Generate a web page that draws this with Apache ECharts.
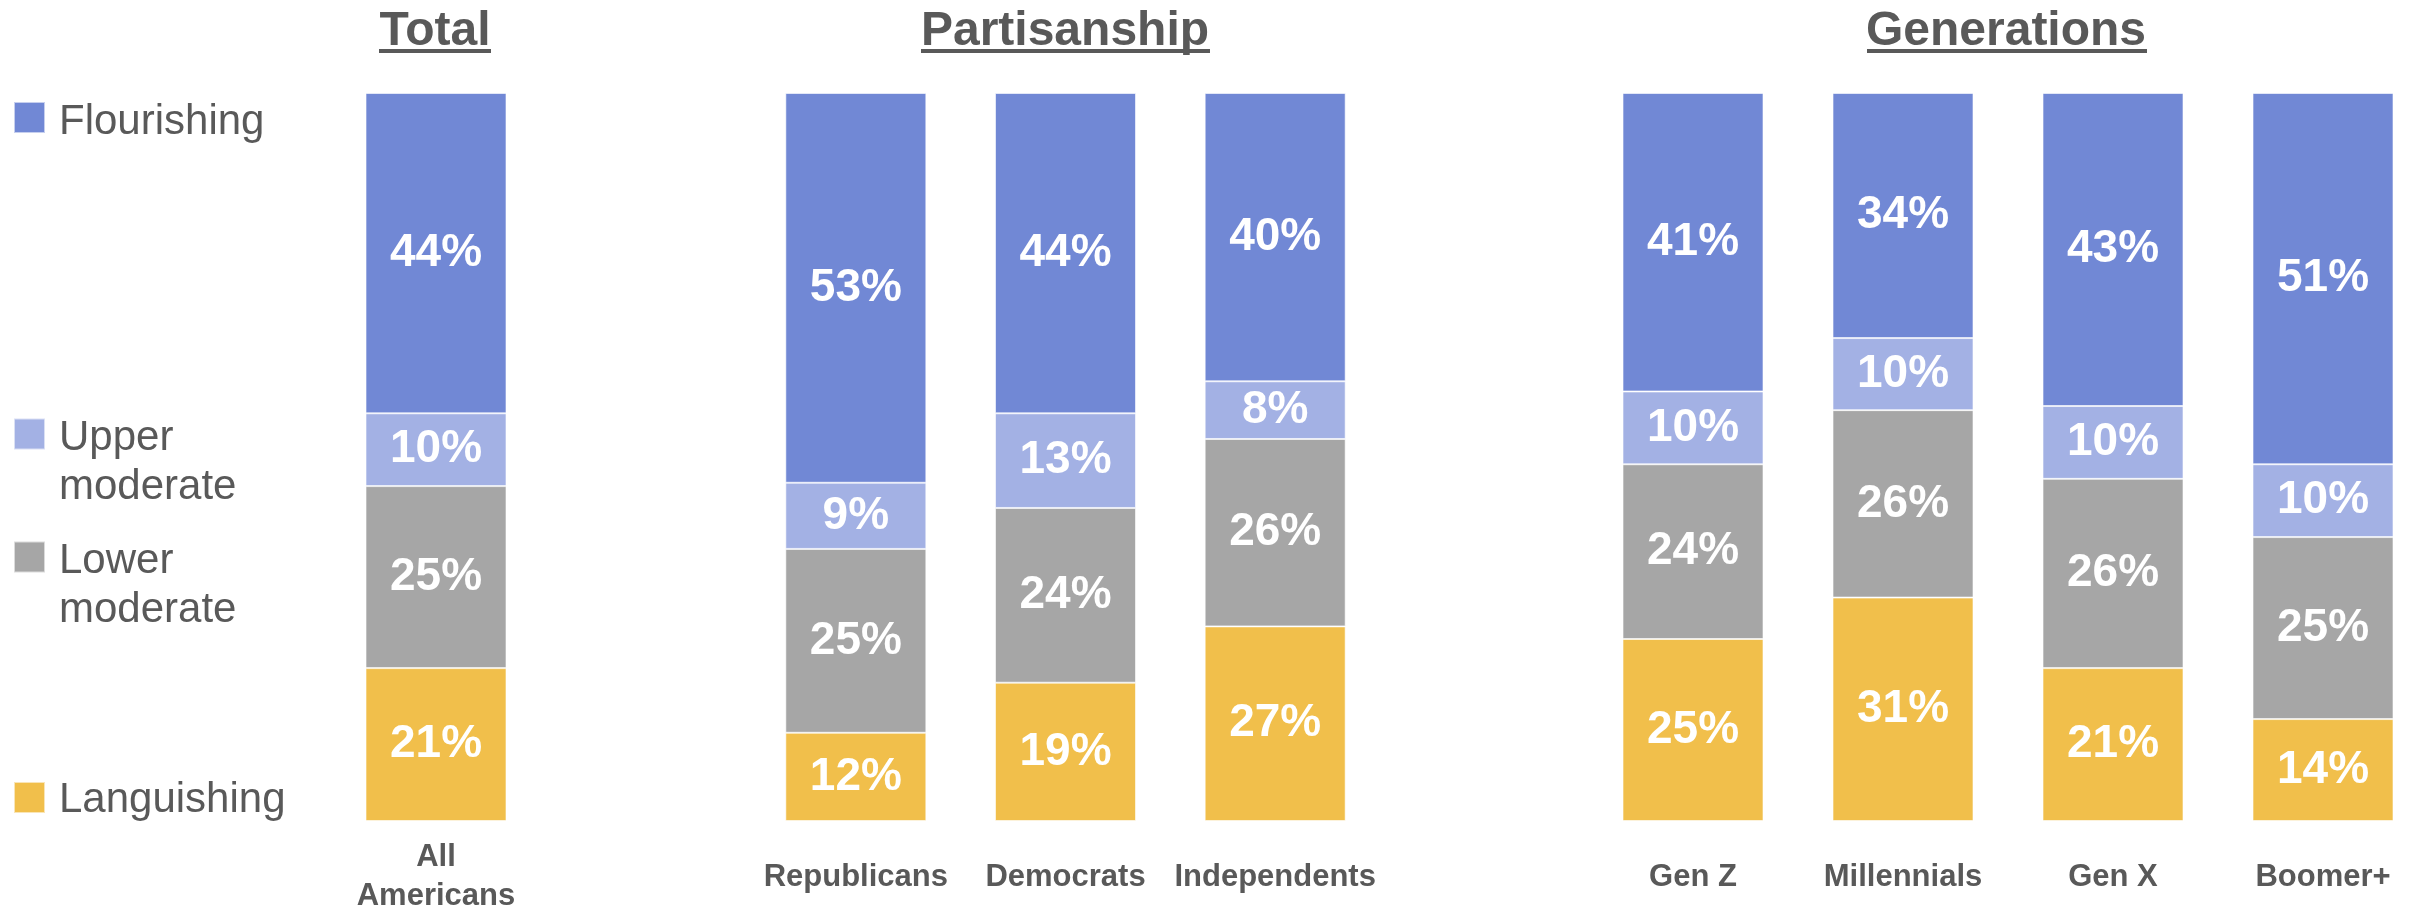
<!DOCTYPE html>
<html><head><meta charset="utf-8">
<script src="https://cdn.jsdelivr.net/npm/echarts@6/dist/echarts.min.js"></script>
<style>html,body{margin:0;padding:0;background:#fff}#c{width:2423px;height:909px}</style>
</head><body><div id="c"></div>
<script>
// ---- data (percentages as labelled) ----
const groupTitles = ['Total', 'Partisanship', 'Generations'];
const categoriesTotal = ['All Americans'];
const categoriesParty = ['Republicans', 'Democrats', 'Independents'];
const categoriesGen = ['Gen Z', 'Millennials', 'Gen X', 'Boomer+'];
// order of all categories: Total, Party..., Gen...
const flourishing   = [44, 53, 44, 40, 41, 34, 43, 51];
const upperModerate = [10,  9, 13,  8, 10, 10, 10, 10];
const lowerModerate = [25, 25, 24, 26, 24, 26, 26, 25];
const languishing   = [21, 12, 19, 27, 25, 31, 21, 14];
const segmentNames = ['Languishing', 'Lower moderate', 'Upper moderate', 'Flourishing'];

// ---- styling ----
const FONT = 'Liberation Sans, Arial, sans-serif';
const GRAY = '#595959';
const colors = {
  'Flourishing': '#7188D5',
  'Upper moderate': '#A3B1E4',
  'Lower moderate': '#A6A6A6',
  'Languishing': '#F1BF4B'
};
const segValues = {
  'Languishing': languishing,
  'Lower moderate': lowerModerate,
  'Upper moderate': upperModerate,
  'Flourishing': flourishing
};
const groups = [
  {cats: categoriesTotal, start: 0, left: 331, width: 210, titleX: 435},
  {cats: categoriesParty, start: 1, left: 751, width: 629, titleX: 1065},
  {cats: categoriesGen, start: 4, left: 1588, width: 840, titleX: 2006}
];
const totals = flourishing.map((v, i) => v + upperModerate[i] + lowerModerate[i] + languishing[i]);

const grid = groups.map(g => ({left: g.left, width: g.width, top: 93, height: 728, outerBoundsMode: 'none', containLabel: false}));
const xAxis = groups.map((g, gi) => ({
  type: 'category', gridIndex: gi, data: g.cats,
  axisLine: {show: false}, axisTick: {show: false},
  axisLabel: {
    color: GRAY, fontWeight: 'bold', fontSize: 31, fontFamily: FONT,
    margin: 56, verticalAlign: 'middle', lineHeight: 39, interval: 0,
    formatter: gi === 0 ? (v => v.replace(' ', '\n')) : (v => v)
  }
}));
const yAxis = groups.map((g, gi) => ({
  type: 'value', gridIndex: gi, min: 0, max: 100, show: false
}));
const series = [];
groups.forEach((g, gi) => {
  segmentNames.forEach(name => {
    series.push({
      type: 'bar', name: name, stack: 'g' + gi, xAxisIndex: gi, yAxisIndex: gi,
      barWidth: 141,
      itemStyle: {color: colors[name], borderColor: 'rgba(255,255,255,0.6)', borderWidth: 1},
      label: {
        show: true, position: 'inside', color: '#fff', fontWeight: 'bold',
        fontSize: 46, fontFamily: FONT,
        formatter: p => p.data.raw + '%'
      },
      emphasis: {disabled: true},
      data: g.cats.map((c, ci) => {
        const k = g.start + ci;
        const raw = segValues[name][k];
        return {value: raw / totals[k] * 100, raw: raw};
      })
    });
  });
});

// spacer line height pushes the (vertically centred) legend text down
function legendFor(name, top, spacer) {
  return {
    data: [name], left: 13, top: top, padding: 0, icon: 'rect',
    itemWidth: 31, itemHeight: 31, selectedMode: false,
    formatter: n => '{s| }\n' + n.split(' ').map(w => '{t|' + w + '}').join('\n'),
    textStyle: {
      color: GRAY, fontSize: 42, fontFamily: FONT, lineHeight: 49,
      rich: {
        s: {fontSize: 4, lineHeight: spacer, color: GRAY},
        t: {fontSize: 42, lineHeight: 49, fontFamily: FONT, color: GRAY, padding: [0, 0, 0, 9]}
      }
    }
  };
}

const underlines = [[379, 112], [921, 289], [1867, 280]];

const option = {
  backgroundColor: '#fff',
  animation: false,
  title: groups.map((g, gi) => ({
    text: groupTitles[gi], left: g.titleX, top: 8, padding: 0, textAlign: 'center',
    textStyle: {color: GRAY, fontSize: 48, fontWeight: 'bold', fontFamily: FONT}
  })),
  legend: [
    legendFor('Flourishing', 88, 10),
    legendFor('Upper moderate', 356, 58),
    legendFor('Lower moderate', 479, 58),
    legendFor('Languishing', 770, 6)
  ],
  grid: grid, xAxis: xAxis, yAxis: yAxis, series: series,
  graphic: underlines.map(u => ({
    type: 'rect', shape: {x: u[0], y: 49, width: u[1], height: 4},
    style: {fill: GRAY}, silent: true
  }))
};
const chart = echarts.init(document.getElementById('c'));
chart.setOption(option);
</script></body></html>
